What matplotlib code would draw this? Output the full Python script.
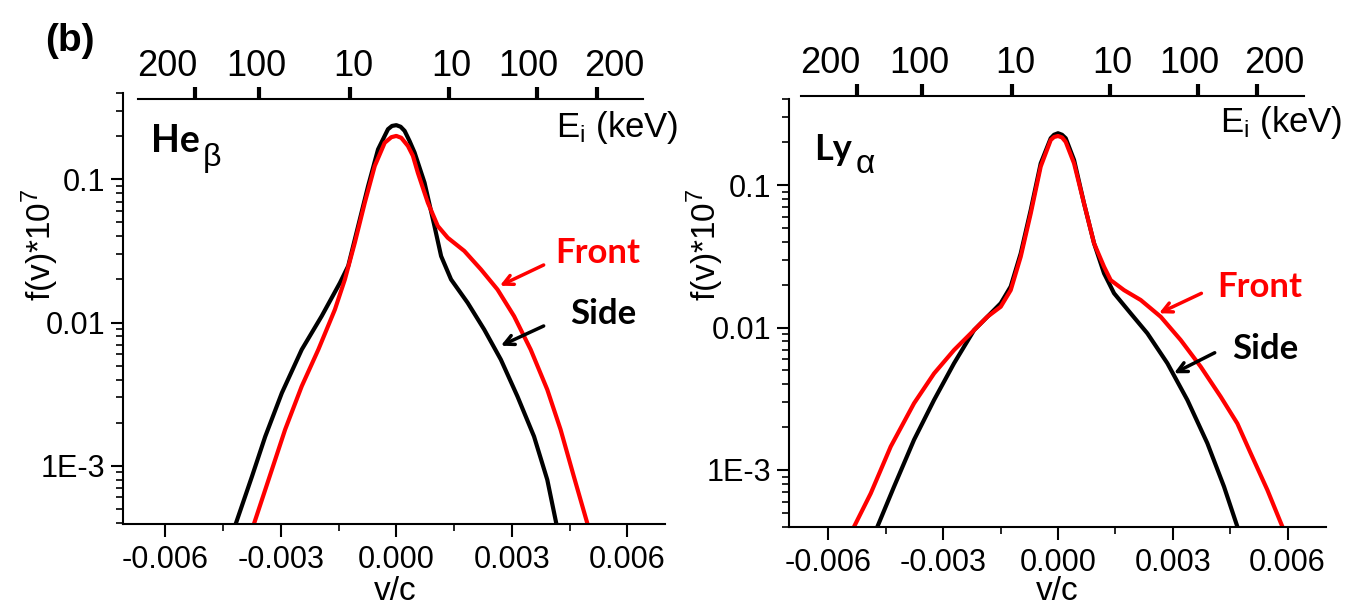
import matplotlib
matplotlib.use("Agg")
import matplotlib.pyplot as plt
from matplotlib.ticker import MultipleLocator, LogLocator, NullFormatter, FixedLocator, FixedFormatter

plt.rcParams['font.family'] = ['Liberation Sans', 'DejaVu Sans']
plt.rcParams['mathtext.fontset'] = 'custom'
plt.rcParams['mathtext.rm'] = 'Liberation Sans'
plt.rcParams['mathtext.it'] = 'Liberation Sans:italic'
plt.rcParams['mathtext.bf'] = 'Liberation Sans:bold'
plt.rcParams['axes.unicode_minus'] = False

# He-beta, side view
heb_side_v = [-0.004181, -0.003750, -0.003405, -0.002974, -0.002457, -0.001940, -0.001466,
              -0.001250, -0.000991, -0.000733, -0.000474, -0.000216, -0.000112, 0.0, 0.000112,
              0.000216, 0.000345, 0.000474, 0.000733, 0.000991, 0.001164, 0.001422, 0.001853,
              0.002284, 0.002716, 0.003147, 0.003578, 0.003922, 0.004164]
heb_side_f = [3.86e-4, 8.41e-4, 1.60e-3, 3.22e-3, 6.47e-3, 1.107e-2, 1.89e-2,
              2.48e-2, 4.72e-2, 8.97e-2, 0.162, 0.224, 0.236, 0.239, 0.233,
              0.218, 0.185, 0.154, 0.0948, 0.0472, 0.0291, 0.0200, 0.01374,
              8.93e-3, 5.51e-3, 3.05e-3, 1.60e-3, 7.98e-4, 3.86e-4]

# He-beta, front view
heb_front_v = [-0.003707, -0.003319, -0.002888, -0.002457, -0.002026, -0.001595, -0.001336,
               -0.001078, -0.000819, -0.000560, -0.000302, -0.000129, 0.0, 0.000129, 0.000302,
               0.000431, 0.000560, 0.000819, 0.001078, 0.001336, 0.001767, 0.002198, 0.002629,
               0.003060, 0.003491, 0.003922, 0.004267, 0.004612, 0.004974]
heb_front_f = [3.86e-4, 7.98e-4, 1.79e-3, 3.59e-3, 6.47e-3, 1.233e-2, 2.00e-2,
               3.61e-2, 6.87e-2, 0.124, 0.180, 0.197, 0.201, 0.195, 0.171,
               0.146, 0.111, 0.0687, 0.0472, 0.0391, 0.0316, 0.0235, 0.0170,
               0.01107, 6.47e-3, 3.40e-3, 1.79e-3, 8.41e-4, 3.86e-4]

# Ly-alpha, side view
lya_side_v = [-0.004720, -0.004285, -0.003762, -0.003239, -0.002717, -0.002194, -0.001846,
              -0.001497, -0.001236, -0.000975, -0.000713, -0.000452, -0.000191, -0.000104, 0.0,
              0.000105, 0.000201, 0.000419, 0.000680, 0.000942, 0.001203, 0.001464, 0.001900,
              0.002335, 0.002858, 0.003380, 0.003903, 0.004338, 0.004687]
lya_side_f = [4.00e-4, 7.64e-4, 1.63e-3, 3.10e-3, 5.61e-3, 9.59e-3, 1.19e-2,
              1.48e-2, 1.94e-2, 3.31e-2, 6.68e-2, 0.142, 0.213, 0.2254, 0.231,
              0.2254, 0.213, 0.150, 0.0743, 0.0390, 0.0240, 0.0174, 0.01256,
              9.10e-3, 5.61e-3, 3.10e-3, 1.54e-3, 7.64e-4, 4.00e-4]

# Ly-alpha, front view
lya_front_v = [-0.005330, -0.004894, -0.004372, -0.003762, -0.003239, -0.002717, -0.002194,
               -0.001846, -0.001497, -0.001236, -0.000975, -0.000713, -0.000452, -0.000191,
               -0.000104, 0.0, 0.000105, 0.000201, 0.000419, 0.000680, 0.000942, 0.001203,
               0.001377, 0.001725, 0.002161, 0.002684, 0.003206, 0.003729, 0.004251, 0.004687,
               0.005035, 0.005471, 0.005863]
lya_front_f = [4.00e-4, 6.85e-4, 1.46e-3, 2.94e-3, 4.76e-3, 6.95e-3, 9.59e-3,
               1.19e-2, 1.40e-2, 1.83e-2, 3.14e-2, 6.32e-2, 0.135, 0.207,
               0.2173, 0.221, 0.2158, 0.201, 0.142, 0.0743, 0.0390, 0.0267,
               0.0215, 0.0183, 0.0156, 0.0119, 8.17e-3, 5.31e-3, 3.27e-3, 2.12e-3,
               1.31e-3, 7.24e-4, 4.00e-4]

# top energy axis (keV), ticks given at their v/c positions
ei_tick_v = [-0.00524, -0.00356, -0.00120, 0.00137, 0.00365, 0.00521]
ei_label_v = [-0.00594, -0.00363, -0.00111, 0.00143, 0.00343, 0.00565]
ei_labels = ["200", "100", "10", "10", "100", "200"]

y_ticks = [1e-3, 1e-2, 1e-1]
y_labels = ["1E-3", "0.01", "0.1"]

W, H = 1357, 614
fig = plt.figure(figsize=(W / 100, H / 100), dpi=100)


def fx(px):
    return px / W


def fy(py):
    return 1 - py / H


def panel(rect, side_v, side_f, front_v, front_f, xlim, ylim, top_frac, arrows):
    ax = fig.add_axes(rect)
    ax.plot(side_v, side_f, color="black", lw=3, solid_joinstyle="round")
    ax.plot(front_v, front_f, color="red", lw=3, solid_joinstyle="round")
    ax.set_yscale("log")
    ax.set_xlim(xlim)
    ax.set_ylim(ylim)
    for s in ["top", "right"]:
        ax.spines[s].set_visible(False)
    for s in ["left", "bottom"]:
        ax.spines[s].set_linewidth(1.5)
    ax.xaxis.set_major_locator(MultipleLocator(0.003))
    ax.xaxis.set_minor_locator(MultipleLocator(0.0015))
    ax.xaxis.set_major_formatter(plt.FuncFormatter(lambda v, p: "%.3f" % v if abs(v) > 1e-9 else "0.000"))
    ax.set_yticks(y_ticks)
    ax.set_yticklabels(y_labels)
    ax.yaxis.set_minor_locator(LogLocator(base=10, subs=range(2, 10)))
    ax.yaxis.set_minor_formatter(NullFormatter())
    ax.tick_params(which="major", length=9, width=1.5, direction="out", labelsize=22)
    ax.tick_params(which="minor", length=5, width=1.2, direction="out")
    ax.tick_params(axis="x", pad=6)
    ax.tick_params(axis="y", pad=4)

    ax2 = ax.twiny()
    ax2.set_xlim(xlim)
    for s in ["left", "right", "bottom"]:
        ax2.spines[s].set_visible(False)
    ax2.spines["top"].set_position(("axes", top_frac))
    ax2.spines["top"].set_bounds(-0.00672, 0.00642)
    ax2.spines["top"].set_linewidth(1.5)
    ax2.xaxis.set_major_locator(FixedLocator(ei_tick_v))
    ax2.xaxis.set_major_formatter(NullFormatter())
    ax2.xaxis.set_minor_locator(FixedLocator(ei_label_v))
    ax2.xaxis.set_minor_formatter(FixedFormatter(ei_labels))
    ax2.tick_params(which="major", length=9, width=3, direction="out")
    ax2.tick_params(which="minor", length=0, pad=11, labelsize=26)

    for (hx, hy), (tx, ty), c in arrows:
        ax.annotate("", xy=(hx, hy), xytext=(tx, ty),
                    arrowprops=dict(arrowstyle="->,head_length=0.7,head_width=0.35",
                                    color=c, lw=2.5, shrinkA=0, shrinkB=0),
                    annotation_clip=False)
    return ax


ax_l = panel([123 / W, 1 - 524 / H, 542 / W, 431 / H],
             heb_side_v, heb_side_f, heb_front_v, heb_front_f,
             (-0.0071, 0.00698), (10 ** -3.407, 10 ** -0.397), 0.986,
             [((0.002690, 0.01807), (0.003828, 0.02523), "red"),
              ((0.002716, 0.00689), (0.003828, 0.00946), "black")])
ax_r = panel([789 / W, 1 - 526.7 / H, 536.5 / W, 427.7 / H],
             lya_side_v, lya_side_f, lya_front_v, lya_front_f,
             (-0.00703, 0.00699), (10 ** -3.398, 10 ** -0.396), 1.007,
             [((0.002639, 0.01259), (0.003747, 0.01738), "red"),
              ((0.003031, 0.004775), (0.004095, 0.006653), "black")])

# texts
bold = ["Lato", "DejaVu Sans"]
fig.text(fx(70), fy(41), "(b)", fontsize=28, fontweight="bold", ha="center", va="center")

fig.text(fx(151), fy(152), "He", fontsize=27, fontweight="bold", family=bold, va="baseline")
fig.text(fx(203), fy(166), "\u03b2", fontsize=23, va="baseline")
fig.text(fx(814), fy(160), "Ly", fontsize=26, fontweight="bold", family=bold, va="baseline")
fig.text(fx(856), fy(173), "\u03b1", fontsize=24, va="baseline")

for x0, base in [(556, 137), (1220, 132)]:
    fig.text(fx(x0), fy(base), "E$_\\mathregular{i}$ (keV)", fontsize=25, va="baseline")

for xc in [40, 705]:
    fig.text(fx(xc), fy(245), "f(v)*10$^\\mathregular{7}$", fontsize=24, rotation=90,
             ha="center", va="center")

for xc in [395, 1057]:
    fig.text(fx(xc), fy(592), "v/c", fontsize=24, ha="center", va="center")

for (xc, yc), txt, c in [((598, 253), "Front", "red"), ((603, 314), "Side", "black"),
                         ((1260, 287), "Front", "red"), ((1265, 349), "Side", "black")]:
    fig.text(fx(xc), fy(yc), txt, fontsize=25, fontweight="bold", family=bold, color=c,
             ha="center", va="center")

fig.savefig("out.png", dpi=100)
